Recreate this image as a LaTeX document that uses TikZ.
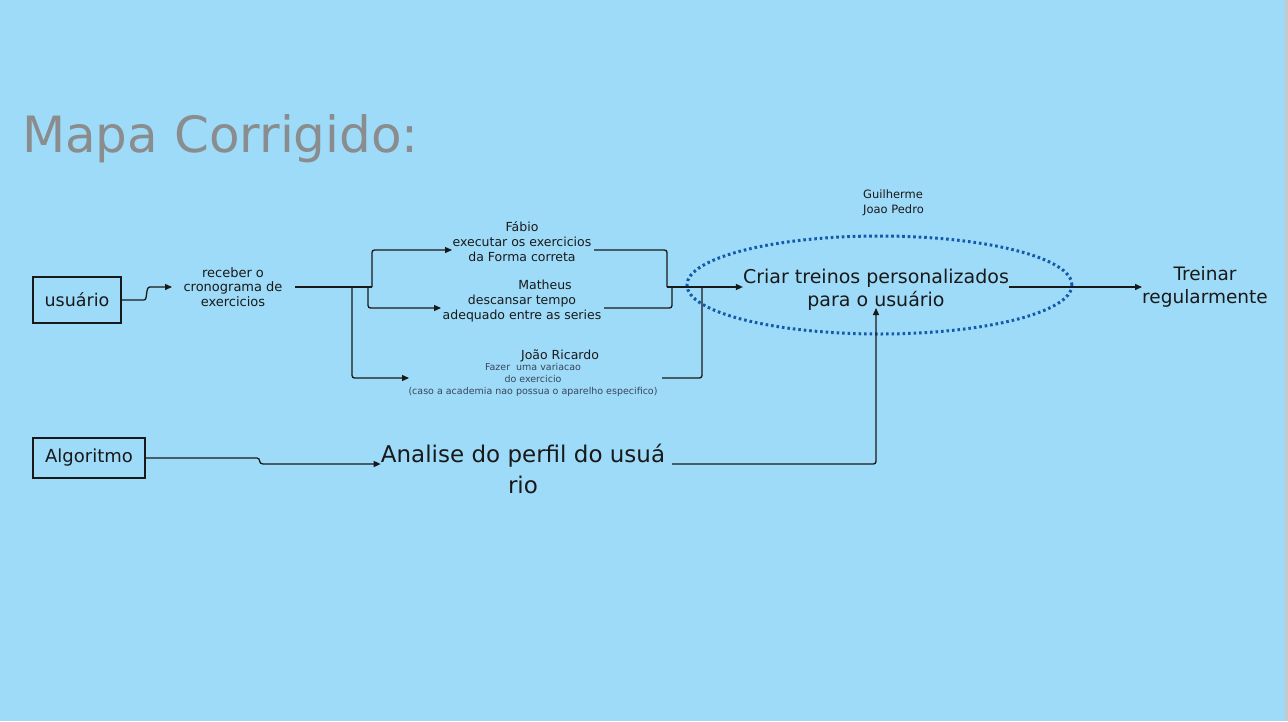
\documentclass[tikz,border=0pt]{standalone}
\usepackage{fontspec}
\setmainfont{DejaVu Sans}
\usetikzlibrary{arrows.meta}
\definecolor{bg}{RGB}{158,219,249}
\definecolor{titlegray}{RGB}{138,140,142}
\definecolor{ink}{RGB}{25,25,25}
\definecolor{slate}{RGB}{55,70,88}
\definecolor{dotblue}{RGB}{20,90,170}
\definecolor{edge}{RGB}{200,200,200}
\tikzset{
  conn/.style={draw=ink, line width=1.3pt, rounded corners=2.5pt},
  tip/.style={-{Triangle[length=7pt,width=6pt]}},
  boxnode/.style={draw=ink, line width=1.5pt, inner sep=0pt, text=ink},
  smalltxt/.style={align=center, inner sep=0pt, font=\fontsize{12.5}{15}\selectfont, text=ink},
  tinytxt/.style={align=center, inner sep=0pt, font=\fontsize{9.5}{12}\selectfont, text=slate},
  bigtxt/.style={align=center, inner sep=0pt, font=\fontsize{19}{23}\selectfont, text=ink}
}
\begin{document}
\begin{tikzpicture}[x=1pt,y=-1pt]
\fill[bg] (0,0) rectangle (1288,721);
\fill[edge] (1285,0) rectangle (1288,721);
\useasboundingbox (0,0) rectangle (1288,721);

% title
\node[anchor=base west, inner sep=0pt, text=titlegray, font=\fontsize{50}{50}\selectfont] (title) at (22,152) {Mapa Corrigido:};

% left boxes
\node[boxnode, minimum width=88pt, minimum height=46pt, font=\fontsize{17.5}{18}\selectfont] (usr) at (77,300) {usuário};
\node[boxnode, minimum width=112pt, minimum height=40pt, font=\fontsize{18}{18}\selectfont] (alg) at (89,458) {Algoritmo};

% receber
\node[smalltxt, font=\fontsize{13}{14.5}\selectfont] (receber) at (233,287) {receber o\\cronograma de\\exercicios};
\coordinate (recIn) at (172,287);
\draw[draw=ink, line width=1.3pt, tip] (usr.east) -- (144,300) .. controls (148,300) and (145,287) .. (150,287) -- (recIn);

% branch texts
\node[smalltxt] (fabio) at (522,242) {Fábio\\executar os exercicios\\da Forma correta};
\node[smalltxt, align=center] (matheus) at (522,301) {\hspace*{46pt}Matheus\\descansar tempo\\adequado entre as series};
\node[smalltxt, anchor=center] (joao) at (560,356) {João Ricardo};
\node[tinytxt] (variacao) at (533,380) {Fazer\ \ uma variacao\\do exercicio\\(caso a academia nao possua o aparelho especifico)};

% trunk and branches
\coordinate (trunk) at (295,287);
\coordinate (fabIn) at (452,250);
\coordinate (matIn) at (441,308);
\coordinate (joaIn) at (409,378);
\coordinate (fabOut) at (594,250);
\coordinate (matOut) at (604,308);
\coordinate (joaOut) at (662,378);
\coordinate (merge) at (667,287);

\draw[conn] (trunk) -- (372,287);
\draw[conn, tip] (372,287) |- (fabIn);
\draw[conn, tip] (368,287) |- (matIn);
\draw[conn, tip] (352,287) |- (joaIn);

\draw[conn] (fabOut) -| (merge);
\draw[conn] (matOut) -| (672,287);
\draw[conn] (joaOut) -| (702,287);

% ellipse and central node
\draw[dotblue, line width=3pt, dash pattern=on 2.6pt off 2.9pt] (879.5,285) ellipse [x radius=192.5pt, y radius=49pt];
\node[bigtxt] (criar) at (876,290) {Criar treinos personalizados\\para o usuário};
\draw[conn, tip] (merge) -- (criar.west |- merge);

\node[anchor=north west, align=left, inner sep=0pt, font=\fontsize{11.5}{15}\selectfont, text=ink] (names) at (863,190) {Guilherme\\Joao Pedro};

% treinar
\node[bigtxt, font=\fontsize{18.5}{23}\selectfont] (treinar) at (1205,287) {Treinar\\regularmente};
\draw[conn, tip] (criar.east |- merge) -- (treinar.west |- merge);

% analise
\node[bigtxt, font=\fontsize{23}{31}\selectfont] (analise) at (523,469) {Analise do perfil do usuá\\rio};
\draw[draw=ink, line width=1.3pt, tip] (alg.east) -- (257,458) .. controls (261,458) and (258,464) .. (263,464) -- (analise.west |- 0,464);
\coordinate (anOut) at (672,464);
\coordinate (upTip) at (876,308);
\draw[conn, tip] (anOut) -| (upTip);
\end{tikzpicture}
\end{document}
